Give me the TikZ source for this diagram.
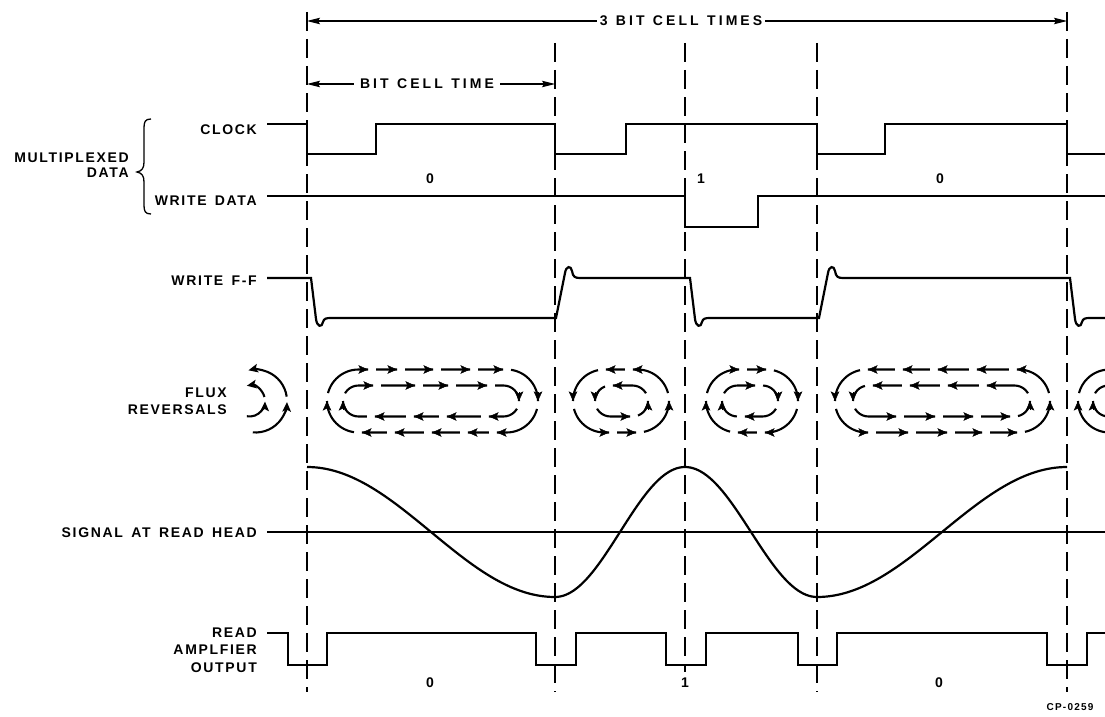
\documentclass[tikz,border=0pt]{standalone}
\usepackage{fontspec}
\setmainfont{Liberation Sans}[LetterSpace=12, WordSpace=1.5]
\newfontfamily\dimfont{Liberation Sans}[LetterSpace=22, WordSpace=1.2]
\usetikzlibrary{arrows.meta}
\def\fgap{8}
\newcommand{\fluxloop}[6]{%
  \pgfmathsetmacro{\fq}{pi*#4/2}%
  \pgfmathsetmacro{\fa}{#1+#4}%
  \pgfmathsetmacro{\fb}{#2-#4}%
  \pgfmathsetmacro{\fhalf}{2*\fq+\fb-\fa}%
  \gdef\fdash{}\gdef\fprev{0}%
  \foreach \t in {#6}{%
    \pgfmathsetmacro{\fp}{\fq+\t-\fa}%
    \pgfmathsetmacro{\fs}{\fp-\fprev-\fgap}%
    \xdef\fdash{\fdash on \fs pt off \fgap pt }%
    \xdef\fprev{\fp}%
  }%
  \pgfmathsetmacro{\fs}{\fhalf-\fprev-\fgap}%
  \xdef\fdash{\fdash on \fs pt off \fgap pt }%
  \pgfmathsetmacro{\fphase}{2*\fhalf-\fgap}%
  \edef\fdo{\noexpand\draw[fluxline, dash pattern=\fdash\fdash, dash phase=\fphase pt]}%
  \fdo (#1,#3) arc[start angle=180, end angle={180+90*(#5)}, radius=#4]
     -- (\fb,{#3-(#5)*#4}) arc[start angle={180+90*(#5)}, end angle={180+270*(#5)}, radius=#4]
     -- (\fa,{#3+(#5)*#4}) arc[start angle={180+270*(#5)}, end angle={180+360*(#5)}, radius=#4];
  \foreach \t in {#6}{%
    \draw[fluxtip] ({\t-9},{#3-(#5)*#4}) -- (\t,{#3-(#5)*#4});
    \draw[fluxtip] ({\fa+\fb-\t+9},{#3+(#5)*#4}) -- ({\fa+\fb-\t},{#3+(#5)*#4});
  }%
  \draw[fluxtip] (#2,{#3-9*(#5)}) -- (#2,#3);
  \draw[fluxtip] (#1,{#3+9*(#5)}) -- (#1,#3);
}
\begin{document}
\begin{tikzpicture}[x=1pt,y=-1pt,
  lbl/.style={font=\fontsize{14}{17}\selectfont\bfseries, inner sep=0pt},
  dimlbl/.style={font=\dimfont\fontsize{14}{17}\selectfont\bfseries, inner sep=0pt},
  small/.style={font=\fontsize{10}{12}\selectfont\bfseries, inner sep=0pt},
  sig/.style={line width=2.2pt, line join=miter},
  thinsig/.style={line width=1.1pt},
  cellline/.style={line width=1.3pt, dash pattern=on 19pt off 8pt},
  dim/.style={line width=1.1pt, -{Stealth[length=13pt,width=6.5pt,inset=2pt]}},
  fluxline/.style={line width=2.1pt},
  fluxtip/.style={line width=0.4pt, -{Stealth[length=9.5pt,width=8.5pt,inset=2pt]}},
  fluxtipend/.style={-{Stealth[length=9.5pt,width=8.5pt,inset=2pt]}}]
\fill[white] (0,0) rectangle (1105,717);
\useasboundingbox (0,0) rectangle (1105,717);

% cell boundary dashed lines
\coordinate (g1t) at (307,12);   \coordinate (g1b) at (307,692);
\coordinate (g2t) at (555,43);   \coordinate (g2b) at (555,692);
\coordinate (g3t) at (685,43);   \coordinate (g3b) at (685,672);
\coordinate (g4t) at (817,43);   \coordinate (g4b) at (817,692);
\coordinate (g5t) at (1067,12);  \coordinate (g5b) at (1067,692);
\foreach \g in {g1,g2,g3,g4,g5} \draw[cellline] (\g t) -- (\g b);

% dimension arrows
\node[dimlbl, inner xsep=3pt] (t3) at (681,21) {3 BIT CELL TIMES};
\coordinate (t3l) at (307,21); \coordinate (t3r) at (1067,21);
\draw[dim] (t3.west) -- (t3l);
\draw[dim] (t3.east) -- (t3r);
\node[dimlbl, inner xsep=6pt] (t1) at (427,84) {BIT CELL TIME};
\coordinate (t1l) at (307,84); \coordinate (t1r) at (555,84);
\draw[dim] (t1.west) -- (t1l);
\draw[dim] (t1.east) -- (t1r);

% labels
\node[lbl, anchor=east] (lclock) at (257,130) {CLOCK};
\node[lbl, anchor=east] (lwd) at (257,201) {WRITE DATA};
\node[lbl, anchor=east, align=right, font=\fontsize{14}{15}\selectfont\bfseries] (lmux) at (129,165.5) {MULTIPLEXED\\DATA};
\draw[line width=1.3pt] (151,119) .. controls (145,119) and (144,122) .. (144,128) -- (144,162)
   .. controls (144,168) and (142,171) .. (137,172) .. controls (142,173) and (144,176) .. (144,182)
   -- (144,205) .. controls (144,211) and (145,214) .. (151,214);
\node[lbl, anchor=east] (lff) at (257,281) {WRITE F-F};
\node[lbl, anchor=east, align=right] (lflux) at (227,401.5) {FLUX\\REVERSALS};
\node[lbl, anchor=east] (lsig) at (257,533) {SIGNAL AT READ HEAD};
\node[lbl, anchor=east, align=right, font=\fontsize{14}{17.5}\selectfont\bfseries] (lamp) at (257,650) {READ\\AMPLFIER\\OUTPUT};

\node[lbl] (b1) at (430,179) {0};
\node[lbl] (b2) at (701,179) {1};
\node[lbl] (b3) at (940,179) {0};
\node[lbl] (r1) at (430,683) {0};
\node[lbl] (r2) at (685,683) {1};
\node[lbl] (r3) at (939,683) {0};
\node[small] (cp) at (1070,707) {CP-0259};

% clock
\draw[sig] (267,124) -- (307,124) -- (307,154) -- (376,154) -- (376,124) -- (555,124) -- (555,154)
  -- (626,154) -- (626,124) -- (817,124) -- (817,154) -- (885,154) -- (885,124) -- (1067,124)
  -- (1067,154) -- (1105,154);
% write data
\draw[sig] (267,196) -- (685,196) -- (685,227) -- (758,227) -- (758,196) -- (1105,196);

% write F-F
\draw[sig] (267,278) -- (311,278) -- (316,319) .. controls (317,327) and (322,328) .. (323,322)
  .. controls (324,318.5) and (326,318) .. (331,318) -- (556,318)
  -- (565,273) .. controls (566,266) and (571,265) .. (572,271) .. controls (573,277) and (575,278) .. (580,278)
  -- (690,278) -- (695,319) .. controls (696,327) and (701,328) .. (702,322)
  .. controls (703,318.5) and (705,318) .. (710,318) -- (819,318)
  -- (828,273) .. controls (829,266) and (834,265) .. (835,271) .. controls (836,277) and (838,278) .. (843,278)
  -- (1070,278) -- (1075,319) .. controls (1076,327) and (1081,328) .. (1082,322)
  .. controls (1083,318.5) and (1085,318) .. (1090,318) -- (1105,318);

% flux reversals
\draw[fluxline, fluxtipend] ({255.5+31.5*cos(95)},{401+31.5*sin(95)}) arc[start angle=95, end angle=2, radius=31.5];
\draw[fluxline, fluxtipend] ({255.5+31.5*cos(-8)},{401+31.5*sin(-8)}) arc[start angle=-8, end angle=-103, radius=31.5];
\draw[fluxline, fluxtipend] ({249.5+15.5*cos(100)},{401+15.5*sin(100)}) arc[start angle=100, end angle=2, radius=15.5];
\draw[fluxline, fluxtipend] ({249.5+15.5*cos(-15)},{401+15.5*sin(-15)}) arc[start angle=-15, end angle=-100, radius=15.5];

\fluxloop{327}{538}{401}{31.5}{1}{368,397,433,470,503}
\fluxloop{343}{519}{401}{15.5}{1}{373,415,448,487}
\fluxloop{573}{669}{401}{31.5}{-1}{609,636}
\fluxloop{595}{648}{401}{15.5}{-1}{630}
\fluxloop{706}{798}{401}{31.5}{1}{739,766}
\fluxloop{722}{778}{401}{15.5}{1}{755}
\fluxloop{835}{1050}{401}{31.5}{-1}{868,908,947,982,1017}
\fluxloop{853}{1030}{401}{15.5}{-1}{896,935,973,1010}
\begin{scope}
\clip (1072,300) rectangle (1105,500);
\fluxloop{1078}{1289}{401}{31.5}{1}{1119,1150,1185}
\fluxloop{1093}{1269}{401}{15.5}{1}{1123,1160}
\end{scope}

% signal at read head
\draw[thinsig] (267,532) -- (1105,532);
\draw[sig] plot[domain=307:555, samples=80] (\x, {532-65*cos((\x-307)/248*180)})
  -- plot[domain=555:685, samples=50] (\x, {532+65*cos((\x-555)/130*180)})
  -- plot[domain=685:817, samples=50] (\x, {532-65*cos((\x-685)/132*180)})
  -- plot[domain=817:1067, samples=80] (\x, {532+65*cos((\x-817)/250*180)});

% read amplifier output
\draw[sig] (267,633) -- (288,633) -- (288,665) -- (327,665) -- (327,633) -- (536,633) -- (536,665)
  -- (576,665) -- (576,633) -- (666,633) -- (666,665) -- (706,665) -- (706,633) -- (798,633)
  -- (798,665) -- (837,665) -- (837,633) -- (1047,633) -- (1047,665) -- (1087,665) -- (1087,633) -- (1105,633);
\end{tikzpicture}
\end{document}
